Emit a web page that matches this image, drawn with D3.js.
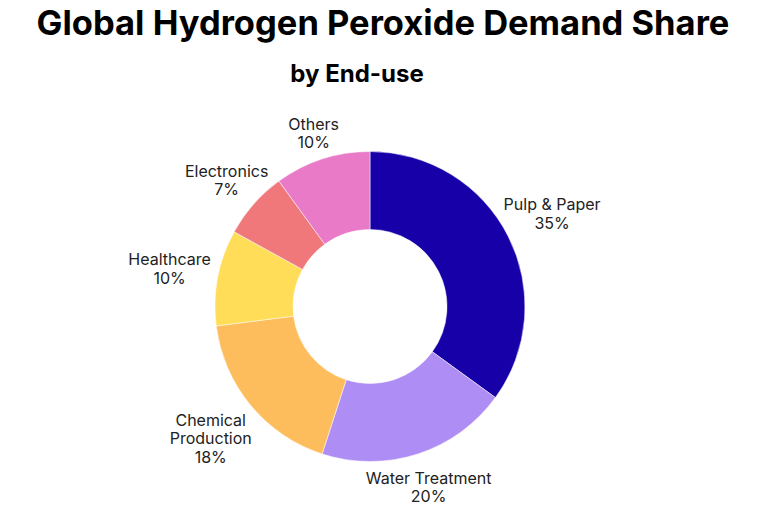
<!DOCTYPE html>
<html>
<head>
<meta charset="utf-8">
<script src="https://cdn.jsdelivr.net/npm/d3@7"></script>
<style>
  body { margin: 0; background: #fff; }
  svg { display: block; font-family: Inter, "Noto Sans", sans-serif; }
</style>
</head>
<body>
<div id="chart"></div>
<script>
// end-use shares, clockwise from 12 o'clock
const categories = ["Pulp & Paper", "Water Treatment", "Chemical Production", "Healthcare", "Electronics", "Others"];
const shares = [35, 20, 18, 10, 7, 10];
const colors = ["#1800a8", "#ae8ef4", "#febd5c", "#ffdd58", "#f0777a", "#e87ac8"];
// label lines (Chemical Production wraps onto two lines)
const labelLines = [["Pulp & Paper"], ["Water Treatment"], ["Chemical", "Production"], ["Healthcare"], ["Electronics"], ["Others"]];

const width = 760, height = 514;
const cx = 370, cy = 306.5;
const outerR = 155, innerR = 77;

const svg = d3.select("#chart").append("svg")
  .attr("width", width)
  .attr("height", height);

svg.append("text")
  .attr("x", 383).attr("y", 35)
  .attr("text-anchor", "middle")
  .attr("font-size", 34.5).attr("font-weight", 700)
  .attr("fill", "#000")
  .text("Global Hydrogen Peroxide Demand Share");

svg.append("text")
  .attr("x", 357).attr("y", 82)
  .attr("text-anchor", "middle")
  .attr("font-size", 24).attr("font-weight", 700)
  .attr("fill", "#000")
  .text("by End-use");

const data = categories.map((c, i) => ({name: c, value: shares[i], color: colors[i], lines: labelLines[i]}));

const pie = d3.pie().value(d => d.value).sort(null);
const arc = d3.arc().innerRadius(innerR).outerRadius(outerR);
const arcs = pie(data);

const g = svg.append("g").attr("transform", `translate(${cx},${cy})`);

g.selectAll("path.slice")
  .data(arcs)
  .join("path")
  .attr("class", "slice")
  .attr("d", arc)
  .attr("fill", d => d.data.color)
  .attr("stroke", "#fff")
  .attr("stroke-width", 0.5);

// outside labels: text box slid out along the mid-angle until its
// inner edge clears the ring by `gap` (a bit more room right below the ring)
const lineH = 18.5, fs = 16, gap = 7, belowPad = 7;
const lg = g.selectAll("g.label")
  .data(arcs)
  .join("g")
  .attr("class", "label");

lg.each(function (d) {
  const el = d3.select(this);
  const lines = d.data.lines.concat([d.data.value + "%"]);
  const t = el.append("text")
    .attr("text-anchor", "middle")
    .attr("font-size", fs)
    .attr("fill", "#222");
  lines.forEach((l, i) => {
    t.append("tspan").attr("x", 0).attr("dy", i === 0 ? 0 : lineH).text(l);
  });
  const bb = t.node().getBBox();
  const a = (d.startAngle + d.endAngle) / 2;
  const s = Math.sin(a), c = -Math.cos(a);
  const hw = bb.width / 2, hh = bb.height / 2;
  const hhEff = c > 0.8 ? hh + belowPad : hh;
  const edge = Math.min(Math.abs(s) > 1e-6 ? hw / Math.abs(s) : Infinity,
                        Math.abs(c) > 1e-6 ? hhEff / Math.abs(c) : Infinity);
  const r = outerR + gap + edge;
  const ox = r * s - (bb.x + hw);
  const oy = r * c - (bb.y + hh);
  el.attr("transform", `translate(${ox},${oy})`);
});
</script>
</body>
</html>
